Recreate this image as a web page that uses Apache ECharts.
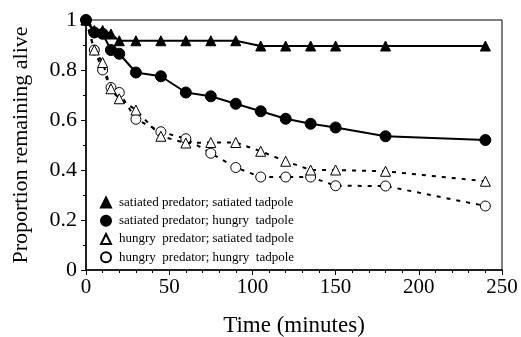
<!DOCTYPE html>
<html><head><meta charset="utf-8">
<script src="https://cdn.jsdelivr.net/npm/echarts@6/dist/echarts.min.js"></script>
<style>html,body{margin:0;padding:0;background:#fff}#c{width:521px;height:337px}</style>
</head><body><div id="c"></div>
<script>
const times = [0,5,10,15,20,30,45,60,75,90,105,120,135,150,180,240];
const satPredSatTad = [1,0.958,0.958,0.944,0.917,0.917,0.917,0.917,0.917,0.917,0.896,0.896,0.896,0.896,0.896,0.896];
const satPredHunTad = [1,0.95,0.945,0.88,0.865,0.79,0.775,0.71,0.695,0.665,0.635,0.605,0.585,0.57,0.535,0.52];
const hunPredSatTad = [1,0.88,0.83,0.725,0.685,0.64,0.535,0.508,0.51,0.51,0.475,0.435,0.4,0.4,0.395,0.355];
const hunPredHunTad = [1,0.88,0.80,0.73,0.71,0.603,0.553,0.525,0.467,0.41,0.372,0.372,0.372,0.337,0.336,0.256];
const seriesNames = ['satiated predator; satiated tadpole','satiated predator; hungry  tadpole','hungry  predator; satiated tadpole','hungry  predator; hungry  tadpole'];
const xTicks = [0,50,100,150,200,250];
const yTicks = [0,0.2,0.4,0.6,0.8,1];

const pair = arr => times.map((t,i)=>[t,arr[i]]);
const font = 'Liberation Serif';
const chart = echarts.init(document.getElementById('c'), null, {renderer:'canvas'});
const mk = (name, data, symbol, filled, dashed, z) => ({
  name, type:'line', data:pair(data), symbol, symbolSize: symbol==='circle' && filled ? 11 : 10,
  z,
  lineStyle:{color:'#000', width:2, type: dashed?[4,6]:'solid'},
  itemStyle:{color: filled?'#000':'#fff', borderColor:'#000', borderWidth: 1},
  emphasis:{disabled:true}, animation:false
});
chart.setOption({
  animation:false,
  grid:{left:86, right:19, top:20, bottom:67, show:true, borderColor:'#000', borderWidth:1,
    containLabel:false, outerBoundsMode:'none'},
  xAxis:{type:'value', min:0, max:250, interval:50,
    name:'Time (minutes)', nameLocation:'middle', nameGap:44,
    nameTextStyle:{fontFamily:font, fontSize:23, color:'#000'},
    axisLine:{lineStyle:{color:'#000', width:1.5}},
    axisTick:{show:true, length:5, lineStyle:{color:'#000'}},
    minorTick:{show:true, splitNumber:5, length:3, lineStyle:{color:'#000'}},
    splitLine:{show:false},
    axisLabel:{fontFamily:font, fontSize:21, color:'#000', margin:7,
      formatter: v => xTicks.includes(v) ? String(v) : ''}
  },
  yAxis:{type:'value', min:0, max:1, interval:0.2,
    name:'Proportion remaining alive', nameLocation:'middle', nameGap:54,
    nameTextStyle:{fontFamily:font, fontSize:22, color:'#000'},
    axisLine:{show:true, lineStyle:{color:'#000', width:1.5}},
    axisTick:{show:true, length:5, lineStyle:{color:'#000'}},
    minorTick:{show:true, splitNumber:2, length:3, lineStyle:{color:'#000'}},
    splitLine:{show:false},
    axisLabel:{fontFamily:font, fontSize:22, color:'#000', margin:9,
      formatter: v => { const t = yTicks.find(y=>Math.abs(y-v)<1e-9); return t===undefined?'':(t===0||t===1?String(t):t.toFixed(1)); }}
  },
  legend:{orient:'vertical', left:95, top:190, itemWidth:10, itemHeight:10, itemGap:3.5,
    textStyle:{fontFamily:font, fontSize:13, color:'#000', lineHeight:14.8, padding:[0,0,0,3]},
    data:[
      {name:seriesNames[0], icon:'triangle'},
      {name:seriesNames[1], icon:'circle'},
      {name:seriesNames[2], icon:'triangle'},
      {name:seriesNames[3], icon:'circle'}
    ]
  },
  series:[
    mk(seriesNames[3], hunPredHunTad, 'circle', false, true, 2),
    mk(seriesNames[2], hunPredSatTad, 'triangle', false, true, 3),
    mk(seriesNames[1], satPredHunTad, 'circle', true, false, 4),
    mk(seriesNames[0], satPredSatTad, 'triangle', true, false, 5)
  ]
});
</script></body></html>
